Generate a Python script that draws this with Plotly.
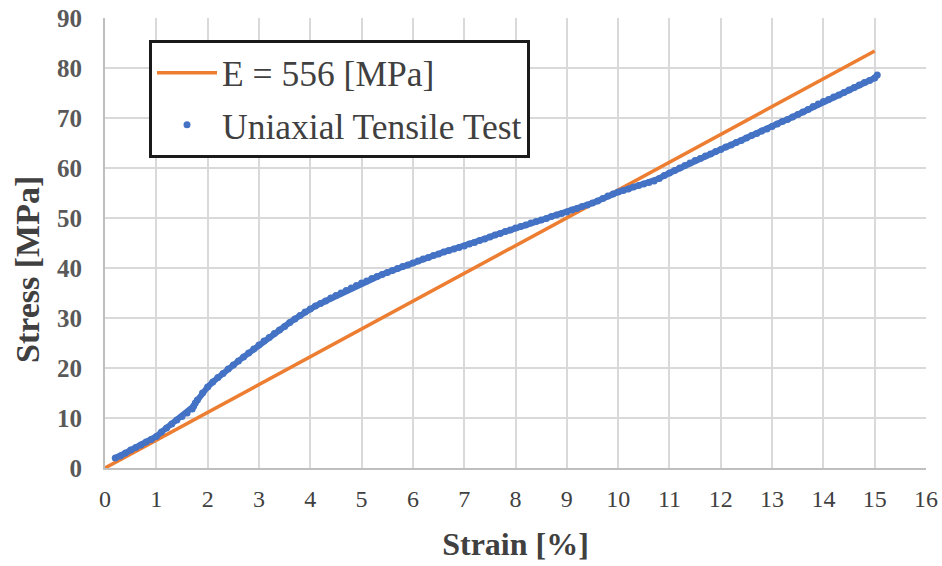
import plotly.graph_objects as go

# Data
strain = [0.2, 0.3, 0.4, 0.5, 0.6, 0.7, 0.8, 0.9, 1.0,
          1.1, 1.2, 1.3, 1.4, 1.5, 1.6, 1.7, 1.73, 1.76, 1.8, 1.9, 2.0,
          2.1, 2.2, 2.3, 2.4, 2.5, 2.6, 2.7, 2.8, 2.9, 3.0,
          3.1, 3.2, 3.3, 3.4, 3.5, 3.6, 3.7, 3.8, 3.9, 4.0,
          4.1, 4.2, 4.3, 4.4, 4.5, 4.6, 4.7, 4.8, 4.9, 5.0,
          5.1, 5.2, 5.3, 5.4, 5.5, 5.6, 5.7, 5.8, 5.9, 6.0,
          6.1, 6.2, 6.3, 6.4, 6.5, 6.6, 6.7, 6.8, 6.9, 7.0,
          7.1, 7.2, 7.3, 7.4, 7.5, 7.6, 7.7, 7.8, 7.9, 8.0,
          8.1, 8.2, 8.3, 8.4, 8.5, 8.6, 8.7, 8.8, 8.9, 9.0,
          9.1, 9.2, 9.3, 9.4, 9.5, 9.6, 9.7, 9.8, 9.9, 10.0,
          10.1, 10.2, 10.3, 10.4, 10.5, 10.6, 10.7, 10.8, 10.9, 11.0,
          11.1, 11.2, 11.3, 11.4, 11.5, 11.6, 11.7, 11.8, 11.9, 12.0,
          12.1, 12.2, 12.3, 12.4, 12.5, 12.6, 12.7, 12.8, 12.9, 13.0,
          13.1, 13.2, 13.3, 13.4, 13.5, 13.6, 13.7, 13.8, 13.9, 14.0,
          14.1, 14.2, 14.3, 14.4, 14.5, 14.6, 14.7, 14.8, 14.9, 15.0, 15.05]
stress = [2.0, 2.4, 3.0, 3.6, 4.1, 4.6, 5.2, 5.7, 6.3,
          7.2, 8.0, 8.8, 9.6, 10.3, 11.0, 11.8, 12.4, 13.0, 13.6, 15.0, 16.2,
          17.2, 18.1, 18.9, 19.8, 20.6, 21.4, 22.2, 23.0, 23.8, 24.6,
          25.4, 26.1, 26.9, 27.6, 28.3, 29.1, 29.8, 30.5, 31.2, 31.8,
          32.4, 32.9, 33.4, 34.0, 34.5, 35.0, 35.5, 36.0, 36.5, 37.0,
          37.4, 37.9, 38.3, 38.7, 39.1, 39.5, 39.9, 40.3, 40.6, 41.0,
          41.4, 41.8, 42.1, 42.5, 42.8, 43.2, 43.5, 43.8, 44.1, 44.4,
          44.8, 45.1, 45.5, 45.8, 46.2, 46.6, 46.9, 47.3, 47.6, 48.0,
          48.3, 48.6, 49.0, 49.3, 49.6, 49.9, 50.3, 50.6, 50.9, 51.2,
          51.6, 51.9, 52.3, 52.6, 53.0, 53.4, 53.9, 54.4, 54.8, 55.2,
          55.5, 55.8, 56.2, 56.5, 56.8, 57.1, 57.4, 57.9, 58.5, 59.0,
          59.5, 60.0, 60.5, 61.0, 61.5, 61.9, 62.4, 62.8, 63.3, 63.7,
          64.2, 64.6, 65.1, 65.5, 66.0, 66.5, 66.9, 67.4, 67.8, 68.3,
          68.8, 69.3, 69.7, 70.2, 70.7, 71.2, 71.7, 72.3, 72.8, 73.3,
          73.7, 74.2, 74.6, 75.1, 75.6, 76.1, 76.6, 77.1, 77.5, 78.0, 78.6]

fit_strain = [0, 15]
fit_stress = [0, 83.4]   # E = 556 MPa

x_ticks = list(range(0, 17))
y_ticks = list(range(0, 91, 10))

SERIF = "Liberation Serif"
BLUE = "#4472C4"
ORANGE = "#ED7D31"

fig = go.Figure()
fig.add_trace(go.Scatter(
    x=fit_strain, y=fit_stress, mode="lines", name="E = 556 [MPa]",
    legendgroup="a", line=dict(color=ORANGE, width=3.5)))
# dense band of measured points (continuous look of overlapping markers)
fig.add_trace(go.Scatter(
    x=strain, y=stress, mode="lines", showlegend=False, hoverinfo="skip",
    legendgroup="b", line=dict(color=BLUE, width=6)))
fig.add_trace(go.Scatter(
    x=strain, y=stress, mode="markers", name="Uniaxial Tensile Test",
    legendgroup="b", marker=dict(color=BLUE, size=7)))

fig.update_layout(
    width=942, height=566,
    margin=dict(l=105, r=16, t=18, b=98),
    paper_bgcolor="white", plot_bgcolor="white",
    font=dict(family=SERIF, color="#404040"),
    showlegend=True,
    legend=dict(
        x=0.0536, y=0.951, xanchor="left", yanchor="top",
        bgcolor="white", bordercolor="#1a1a1a", borderwidth=3,
        font=dict(family=SERIF, size=35.5, color="#404040"),
        itemwidth=60, tracegroupgap=3),
    annotations=[dict(
        text="<b>Stress [MPa]</b>", textangle=-90,
        xref="paper", yref="paper", x=-0.095, y=0.44,
        xanchor="center", yanchor="middle", showarrow=False,
        font=dict(family=SERIF, size=34, color="#404040"))],
)
fig.update_xaxes(
    range=[0, 16], tickvals=x_ticks, ticktext=[str(v) for v in x_ticks],
    showgrid=True, gridcolor="#D9D9D9", gridwidth=1.5,
    showline=True, linecolor="#BFBFBF", linewidth=2,
    ticks="outside", ticklen=0, ticklabelstandoff=8, automargin=False,
    tickfont=dict(family=SERIF, size=24, color="#404040"),
    title=dict(text="<b>Strain [%]</b>", standoff=22,
               font=dict(family=SERIF, size=32, color="#404040")),
    zeroline=False)
fig.update_yaxes(
    range=[0, 90], tickvals=y_ticks, ticktext=[f"<b>{v}</b>" for v in y_ticks],
    showgrid=True, gridcolor="#D9D9D9", gridwidth=1.5,
    showline=True, linecolor="#BFBFBF", linewidth=2,
    ticks="outside", ticklen=0, ticklabelstandoff=16, automargin=False,
    tickfont=dict(family=SERIF, size=25, color="#595959"),
    zeroline=False)

fig.write_html("out.html")
